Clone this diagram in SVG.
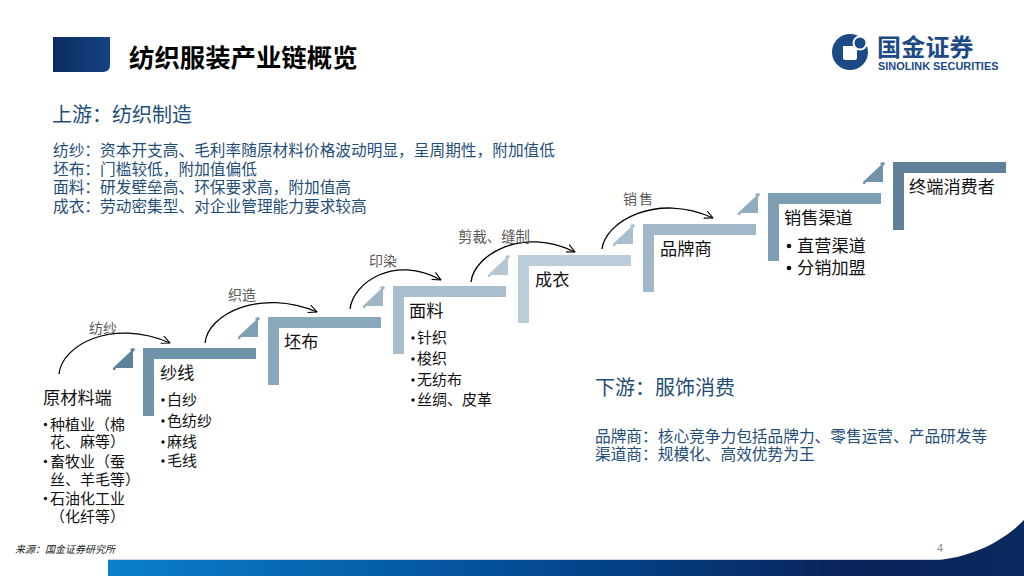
<svg xmlns="http://www.w3.org/2000/svg" xmlns:xlink="http://www.w3.org/1999/xlink" width="1024" height="576" viewBox="0 0 1024 576">
<style>
text{font-family:"Noto Sans CJK SC","Liberation Sans",sans-serif;fill:#111}
.h{font-size:20px;fill:#1f4e79}
.b{font-size:15.7px;fill:#1f4e79}
.n{font-size:17.2px}
.l{font-size:15px}
.a{font-size:14px;fill:#595959}
.d{fill:#111}
.arc{fill:none;stroke:#000;stroke-width:1.3;marker-end:url(#open)}
</style>
<defs>
<marker id="open" viewBox="0 0 10 10" refX="9.5" refY="5" markerWidth="9" markerHeight="9" orient="auto" markerUnits="userSpaceOnUse"><path d="M0 0.5L9.5 5L0 9.5" fill="none" stroke="#000" stroke-width="1.2"/></marker>
<path id="stair" d="M0 0H113V11H11V68H0Z"/>
<path id="wedge" d="M-30 19L-28 17L-12 2L-13 0L-9 -1L-8 1L-10 3V19H-27L-28 21L-30 21Z"/>
<linearGradient id="hdr" x1="0" x2="1" y1="0" y2="0"><stop offset="0" stop-color="#0b2c5e"/><stop offset="1" stop-color="#164284"/></linearGradient>
<linearGradient id="bar" x1="0" x2="1" y1="0" y2="0"><stop offset="0" stop-color="#0a7fcc"/><stop offset="0.5" stop-color="#03478f"/><stop offset="0.82" stop-color="#0a2258"/><stop offset="1" stop-color="#0a2a60"/></linearGradient>
</defs>
<rect width="1024" height="576" fill="#fff"/>

<g id="header">
<path d="M53 37H110V65Q110 72 103 72H53Z" fill="url(#hdr)"/>
<text x="129" y="66.500" style="font-size:25.400px;font-weight:700;fill:#000">纺织服装产业链概览</text>
</g>
<g id="logo">
<circle cx="850" cy="52" r="18" fill="#1c4a86"/>
<circle cx="860" cy="43" r="7.500" fill="#fff"/>
<circle cx="860" cy="43" r="5.500" fill="#1c4a86"/>
<path d="M843 46H853L857 50V58Q857 60 855 60H845Q843 60 843 58Z" fill="#fff"/>
<text x="877" y="56" style="font-size:24px;font-weight:700;fill:#1c4a86;letter-spacing:.2px">国金证券</text>
<text x="878" y="70" style="font-family:'Liberation Sans',sans-serif;font-size:10.900px;font-weight:700;fill:#1c4a86">SINOLINK SECURITIES</text>
</g>

<g id="upstream">
<text class="h" x="52" y="122">上游&#xFF1A;纺织制造</text>
<text class="b" x="53" y="155.500">纺纱&#xFF1A;资本开支高、毛利率随原材料价格波动明显&#xFF0C;呈周期性&#xFF0C;附加值低</text>
<text class="b" x="53" y="174.500">坯布&#xFF1A;门槛较低&#xFF0C;附加值偏低</text>
<text class="b" x="53" y="192.500">面料&#xFF1A;研发壁垒高、环保要求高&#xFF0C;附加值高</text>
<text class="b" x="53" y="211.500">成衣&#xFF1A;劳动密集型、对企业管理能力要求较高</text>
</g>

<g id="connectors">
<path class="arc" d="M59 374C62 345 112 318 170 343"/>
<path class="arc" d="M205 343C208 314 260 288 317 312"/>
<path class="arc" d="M350 309C353 283 394 254 441 280"/>
<path class="arc" d="M471 282C474 255 522 226 575 252"/>
<path class="arc" d="M602 249C605 222 656 192 713 218"/>
<text class="a" x="89" y="333">纺纱</text>
<text class="a" x="228" y="300">织造</text>
<text class="a" x="369" y="266">印染</text>
<text class="a" x="458" y="242" style="font-size:14.400px">剪裁、缝制</text>
<text class="a" x="623" y="204" style="letter-spacing:2px">销售</text>
</g>

<g id="node-raw">
<text class="n" x="43" y="404">原材料端</text>
<circle class="d" cx="45.500" cy="424.500" r="1.700"/><text class="l" x="50" y="430">种植业&#xFF08;棉</text>
<text class="l" x="50" y="447">花、麻等&#xFF09;</text>
<circle class="d" cx="45.500" cy="461.500" r="1.700"/><text class="l" x="50" y="467">畜牧业&#xFF08;蚕</text>
<text class="l" x="50" y="485">丝、羊毛等&#xFF09;</text>
<circle class="d" cx="45.500" cy="498.500" r="1.700"/><text class="l" x="50" y="504">石油化工业</text>
<text class="l" x="50" y="522">&#xFF08;化纤等&#xFF09;</text>
</g>
<g id="node-yarn">
<use xlink:href="#stair" x="143" y="348" fill="#6e94aa"/>
<use xlink:href="#wedge" x="143" y="349" fill="#5e8299"/>
<text class="n" x="160" y="379">纱线</text>
<circle class="d" cx="163" cy="400" r="1.700"/><text class="l" x="167" y="405">白纱</text>
<circle class="d" cx="163" cy="421" r="1.700"/><text class="l" x="167" y="426">色纺纱</text>
<circle class="d" cx="163" cy="442" r="1.700"/><text class="l" x="167" y="447">麻线</text>
<circle class="d" cx="163" cy="461" r="1.700"/><text class="l" x="167" y="466">毛线</text>
</g>
<g id="node-greige">
<use xlink:href="#stair" x="268" y="317" fill="#8aa8bb"/>
<use xlink:href="#wedge" x="268" y="318" fill="#7f9fb3"/>
<text class="n" x="284" y="348">坯布</text>
</g>
<g id="node-fabric">
<use xlink:href="#stair" x="393" y="286" fill="#a9bfce"/>
<use xlink:href="#wedge" x="393" y="287" fill="#9db5c5"/>
<text class="n" x="409" y="317">面料</text>
<circle class="d" cx="413" cy="338" r="1.700"/><text class="l" x="417" y="343">针织</text>
<circle class="d" cx="413" cy="359" r="1.700"/><text class="l" x="417" y="364">梭织</text>
<circle class="d" cx="413" cy="380" r="1.700"/><text class="l" x="417" y="385">无纺布</text>
<circle class="d" cx="413" cy="400" r="1.700"/><text class="l" x="417" y="405">丝绸、皮革</text>
</g>
<g id="node-garment">
<use xlink:href="#stair" x="518" y="255" fill="#bbcdd9"/>
<use xlink:href="#wedge" x="518" y="256" fill="#b4c7d4"/>
<text class="n" x="535" y="286">成衣</text>
</g>
<g id="node-brand">
<use xlink:href="#stair" x="643" y="224" fill="#a0b8c9"/>
<use xlink:href="#wedge" x="643" y="225" fill="#a8bfcd"/>
<text class="n" x="660" y="255">品牌商</text>
</g>
<g id="node-channel">
<use xlink:href="#stair" x="768" y="193" fill="#7d9fb3"/>
<use xlink:href="#wedge" x="768" y="194" fill="#8fadbf"/>
<text class="n" x="784" y="224">销售渠道</text>
<circle class="d" cx="789" cy="246" r="2.300"/><text class="n" x="797" y="252">直营渠道</text>
<circle class="d" cx="789" cy="268" r="2.300"/><text class="n" x="797" y="274">分销加盟</text>
</g>
<g id="node-consumer">
<use xlink:href="#stair" x="893" y="162" fill="#5f8098"/>
<use xlink:href="#wedge" x="893" y="163" fill="#6f93a8"/>
<text class="n" x="909" y="193">终端消费者</text>
</g>

<g id="downstream">
<text class="h" x="595" y="395">下游&#xFF1A;服饰消费</text>
<text class="b" x="595" y="441.500">品牌商&#xFF1A;核心竞争力包括品牌力、零售运营、产品研发等</text>
<text class="b" x="595" y="459.500">渠道商&#xFF1A;规模化、高效优势为王</text>
</g>

<g id="footer">
<text x="15" y="553" style="font-size:10px;font-style:italic;fill:#222">来源&#xFF1A;国金证券研究所</text>
<text x="937" y="552" style="font-family:'Liberation Sans',sans-serif;font-size:11px;fill:#8c8c8c">4</text>
<rect x="108" y="559" width="835" height="1" fill="#c8d6e4"/>
<path d="M108 560H940C975 556 1005 540 1024 520V576H108Z" fill="url(#bar)"/>
</g>
</svg>
